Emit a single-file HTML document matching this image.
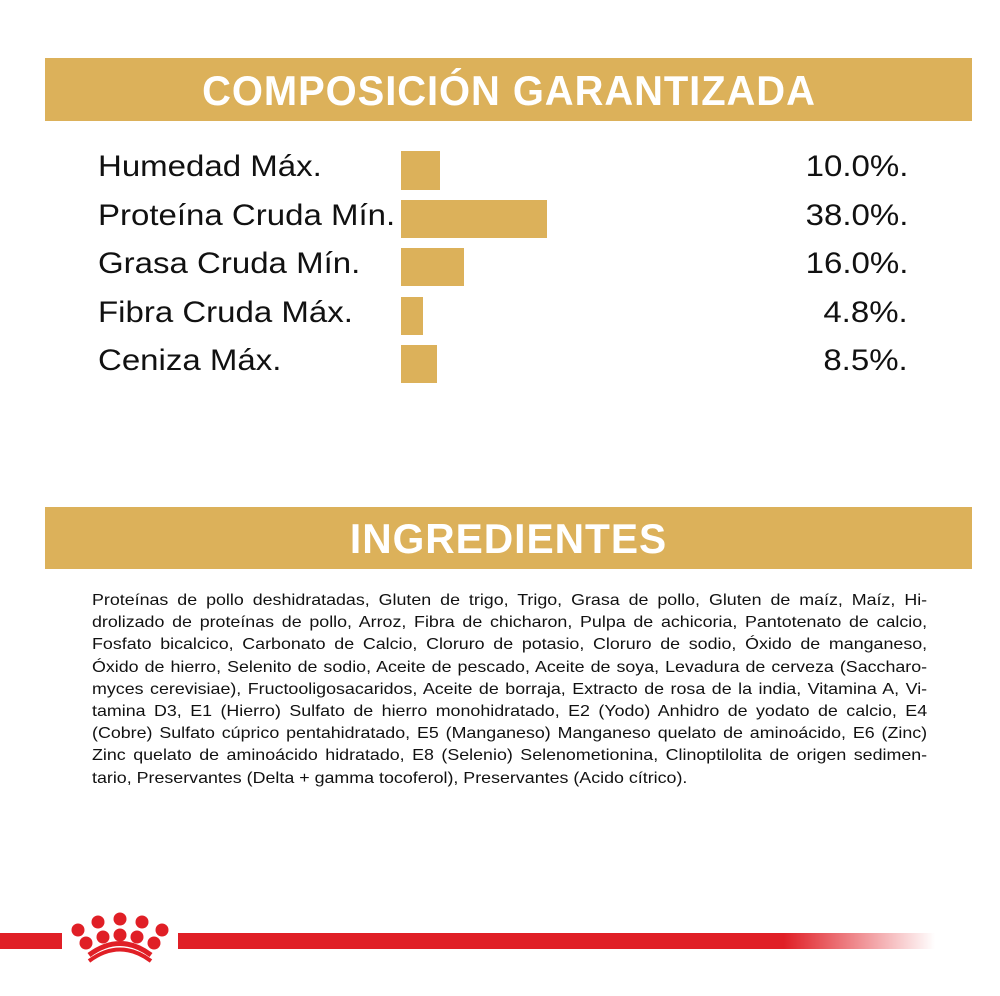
<!DOCTYPE html>
<html><head><meta charset="utf-8"><style>
body{margin:0;width:1000px;height:996px;background:#fff;position:relative;overflow:hidden;font-family:"Liberation Sans",sans-serif}
.band{position:absolute;left:45px;width:927px;background:#dcb15a;color:#fff;font-weight:bold;text-align:center;font-size:42px;letter-spacing:1px}
.lab{position:absolute;left:98px;font-size:30px;color:#111;transform:scaleX(1.1);transform-origin:left;white-space:nowrap}
.val{position:absolute;right:92px;font-size:30px;color:#111;text-align:right;transform:scaleX(1.1);transform-origin:right}
.bar{position:absolute;left:401px;background:#dcb15a}
.ing{position:absolute;left:92px;top:590px;width:730px;font-size:15.6px;line-height:22.2px;color:#111;transform:scaleX(1.144);transform-origin:left top}
.ing div{text-align:justify;text-align-last:justify;white-space:nowrap}
.ing div.l{text-align-last:left}
</style></head><body>
<div class="band" style="top:58px;height:63px;line-height:66px"><span style="display:inline-block;transform:scaleX(0.95)">COMPOSICIÓN GARANTIZADA</span></div>
<div class="lab" style="top:150px">Humedad Máx.</div><div class="bar" style="top:151px;width:39px;height:39px"></div><div class="val" style="top:150px">10.0%.</div>
<div class="lab" style="top:199px">Proteína Cruda Mín.</div><div class="bar" style="top:200px;width:146px;height:38px"></div><div class="val" style="top:199px">38.0%.</div>
<div class="lab" style="top:247px">Grasa Cruda Mín.</div><div class="bar" style="top:248px;width:63px;height:38px"></div><div class="val" style="top:247px">16.0%.</div>
<div class="lab" style="top:296px">Fibra Cruda Máx.</div><div class="bar" style="top:297px;width:22px;height:38px"></div><div class="val" style="top:296px">4.8%.</div>
<div class="lab" style="top:344px">Ceniza Máx.</div><div class="bar" style="top:345px;width:36px;height:38px"></div><div class="val" style="top:344px">8.5%.</div>
<div class="band" style="top:507px;height:62px;line-height:64px"><span style="display:inline-block;transform:scaleX(0.97)">INGREDIENTES</span></div>
<div class="ing">
<div>Proteínas de pollo deshidratadas, Gluten de trigo, Trigo, Grasa de pollo, Gluten de maíz, Maíz, Hi-</div>
<div>drolizado de proteínas de pollo, Arroz, Fibra de chicharon, Pulpa de achicoria, Pantotenato de calcio,</div>
<div>Fosfato bicalcico, Carbonato de Calcio, Cloruro de potasio, Cloruro de sodio, Óxido de manganeso,</div>
<div>Óxido de hierro, Selenito de sodio, Aceite de pescado, Aceite de soya, Levadura de cerveza (Saccharo-</div>
<div>myces cerevisiae), Fructooligosacaridos, Aceite de borraja, Extracto de rosa de la india, Vitamina A, Vi-</div>
<div>tamina D3, E1 (Hierro) Sulfato de hierro monohidratado, E2 (Yodo) Anhidro de yodato de calcio, E4</div>
<div>(Cobre) Sulfato cúprico pentahidratado, E5 (Manganeso) Manganeso quelato de aminoácido, E6 (Zinc)</div>
<div>Zinc quelato de aminoácido hidratado, E8 (Selenio) Selenometionina, Clinoptilolita de origen sedimen-</div>
<div class="l">tario, Preservantes (Delta + gamma tocoferol), Preservantes (Acido cítrico).</div>
</div>
<div style="position:absolute;left:0;top:933px;width:62px;height:16px;background:#e01f26"></div>
<div style="position:absolute;left:178px;top:933px;width:757px;height:16px;background:linear-gradient(to right,#e01f26 0%,#e01f26 80%,rgba(224,31,38,0) 100%)"></div>
<svg style="position:absolute;left:0;top:900px" width="200" height="80">
<g fill="#e01f26">
<circle cx="78" cy="30" r="6.5"/><circle cx="98" cy="22" r="6.5"/><circle cx="120" cy="19" r="6.5"/><circle cx="142" cy="22" r="6.5"/><circle cx="162" cy="30" r="6.5"/>
<circle cx="86" cy="43" r="6.5"/><circle cx="103" cy="37" r="6.5"/><circle cx="120" cy="35" r="6.5"/><circle cx="137" cy="37" r="6.5"/><circle cx="154" cy="43" r="6.5"/>
</g>
<path d="M89 61 Q120 38 151 61" stroke="#e01f26" stroke-width="4" fill="none"/>
<path d="M89 55 Q120 32 151 55" stroke="#e01f26" stroke-width="5" fill="none"/>
</svg>
</body></html>
